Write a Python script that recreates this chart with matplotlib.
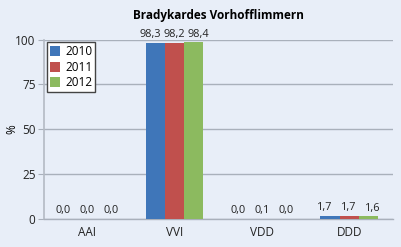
import numpy as np
import matplotlib.pyplot as plt

plt.rcParams['font.family'] = ['Open Sans', 'DejaVu Sans']

categories = ['AAI', 'VVI', 'VDD', 'DDD']
years = ['2010', '2011', '2012']
values = {
    '2010': [0.0, 98.3, 0.0, 1.7],
    '2011': [0.0, 98.2, 0.1, 1.7],
    '2012': [0.0, 98.4, 0.0, 1.6],
}
colors = ['#3f76b9', '#c0504d', '#8cba5f']
title = 'Bradykardes Vorhofflimmern'

bg = '#e8eef8'
fig = plt.figure(figsize=(4.02, 2.47), dpi=100, facecolor=bg)
ax = fig.add_axes([0.109, 0.113, 0.868, 0.727], facecolor=bg)

x = np.arange(len(categories))
width = 0.22
for i, year in enumerate(years):
    pos = x + (i - 1) * width
    ax.bar(pos, values[year], width, color=colors[i], label=year, zorder=3)
    # labels spread slightly wider than the bars so they don't collide
    for p, v in zip(x + (i - 1) * width * 1.25, values[year]):
        ax.text(p, v + 1.5, f'{v:.1f}'.replace('.', ','), ha='center', va='bottom',
                fontsize=7.8, color='#222222', zorder=4)

ax.set_xlim(-0.5, 3.5)
ax.set_ylim(0, 100)
ax.set_yticks([0, 25, 50, 75, 100])
ax.set_xticks(x)
ax.set_xticklabels(categories)
ax.tick_params(axis='both', labelsize=8.5, colors='#222222')
ax.tick_params(axis='x', length=0, pad=5)
ax.tick_params(axis='y', length=4, color='#a9b0bb', pad=2)
ax.yaxis.grid(True, color='#a9b0bb', linewidth=1.0, zorder=0)
for s in ['top', 'right']:
    ax.spines[s].set_visible(False)
ax.spines['left'].set_color('#b4bac4')
ax.spines['left'].set_linewidth(1.2)
ax.spines['bottom'].set_color('#a9b0bb')
ax.spines['bottom'].set_linewidth(1.0)

ax.set_ylabel('%', fontsize=8.5)
ax.yaxis.set_label_coords(-0.072, 0.5)
ax.set_title(title, fontsize=8.5, fontweight='bold', pad=15)

leg = ax.legend(loc='upper left', fontsize=8.5, frameon=True, fancybox=False,
                handlelength=0.9, handleheight=0.9, handletextpad=0.4,
                borderpad=0.25, labelspacing=0.2, borderaxespad=0.25)
leg.get_frame().set_edgecolor('#444444')
leg.get_frame().set_linewidth(1.0)
leg.get_frame().set_facecolor('white')
leg.get_frame().set_alpha(1)

fig.savefig('out.png', dpi=100, facecolor=bg)
